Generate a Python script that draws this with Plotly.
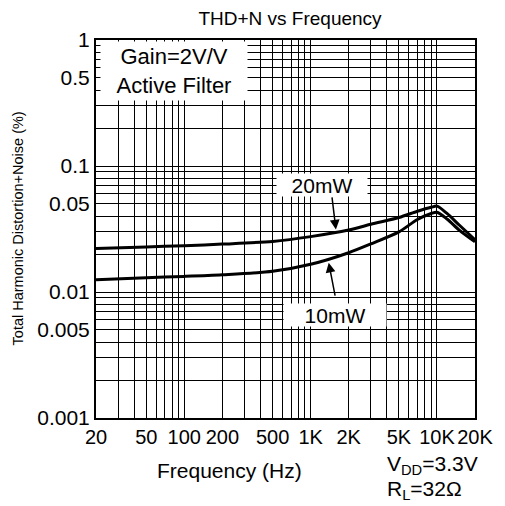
import math
import plotly.graph_objects as go

freq_20mw = [20, 50, 100, 200, 500, 1000, 2000, 3000, 5000, 7000, 9000, 10000, 12000, 15000, 20000]
thd_20mw = [0.0221, 0.0228, 0.0233, 0.0240, 0.0252, 0.0275, 0.031, 0.0345, 0.039, 0.0437, 0.047, 0.048, 0.042, 0.034, 0.026]
freq_10mw = [20, 50, 100, 200, 500, 1000, 2000, 3000, 5000, 7000, 9000, 10000, 12000, 15000, 20000]
thd_10mw = [0.0125, 0.0130, 0.0133, 0.0137, 0.0146, 0.0166, 0.0205, 0.0241, 0.030, 0.0376, 0.042, 0.043, 0.038, 0.031, 0.025]

x_labels = {20: "20", 50: "50", 100: "100", 200: "200", 500: "500", 1000: "1K",
            2000: "2K", 5000: "5K", 10000: "10K", 20000: "20K"}
y_labels = {1: "1", 0.5: "0.5", 0.1: "0.1", 0.05: "0.05", 0.01: "0.01",
            0.005: "0.005", 0.001: "0.001"}

x_grid = [m * 10 ** e for e in range(1, 5) for m in range(1, 10) if 20 <= m * 10 ** e <= 20000]
y_grid = [round(m * 10.0 ** e, 6) for e in range(-3, 1) for m in range(1, 10) if m * 10.0 ** e <= 1.0000001]

FONT = "Liberation Sans, Arial, sans-serif"

# page body has an 8px margin: figure is sized to fit the 505x506 window
W, H = 497, 498
L, T = 88, 32
PW, PH = 381, 378


def px(xp):
    return (xp - 8 - L) / PW


def py(yp):
    return 1 - (yp - 8 - T) / PH


fig = go.Figure()
fig.add_trace(go.Scatter(x=freq_20mw, y=thd_20mw, mode="lines",
                         line=dict(color="black", width=3, shape="spline", smoothing=0.8),
                         showlegend=False, name="20mW"))
fig.add_trace(go.Scatter(x=freq_10mw, y=thd_10mw, mode="lines",
                         line=dict(color="black", width=3, shape="spline", smoothing=0.8),
                         showlegend=False, name="10mW"))

fig.update_xaxes(type="log", range=[math.log10(20), math.log10(20000)],
                 tickmode="array", tickvals=x_grid,
                 ticktext=[x_labels.get(v, "") for v in x_grid],
                 showgrid=True, gridcolor="black", gridwidth=1,
                 showline=True, linecolor="black", linewidth=2, mirror=True,
                 ticks="", ticklabelstandoff=0, tickangle=0,
                 tickfont=dict(size=20, color="black", family=FONT),
                 zeroline=False)
fig.update_yaxes(type="log", range=[-3, 0],
                 tickmode="array", tickvals=y_grid,
                 ticktext=[y_labels.get(v, "") for v in y_grid],
                 showgrid=True, gridcolor="black", gridwidth=1,
                 showline=True, linecolor="black", linewidth=2, mirror=True,
                 ticks="", tickfont=dict(size=21, color="black", family=FONT),
                 zeroline=False)

tf = dict(size=21, color="black", family=FONT)


def label(xp, yp, text, font=tf, **kw):
    d = dict(x=px(xp), y=py(yp), xref="paper", yref="paper", text=text,
             showarrow=False, xanchor="center", yanchor="middle", font=font)
    d.update(kw)
    return d


anns = []
# curve labels
anns.append(label(323, 185, "20mW", bgcolor="white", borderpad=0, width=90, height=22))
anns.append(label(336, 315, "10mW", bgcolor="white", borderpad=0, width=102, height=22))
# arrows
anns.append(dict(x=math.log10(1585), y=math.log10(0.0313), ax=math.log10(1472), ay=math.log10(0.058),
                 xref="x", yref="y", axref="x", ayref="y", text="", showarrow=True,
                 arrowhead=2, arrowsize=1.3, arrowwidth=1.5, arrowcolor="black"))
anns.append(dict(x=math.log10(1390), y=math.log10(0.0171), ax=math.log10(1570), ay=math.log10(0.0091),
                 xref="x", yref="y", axref="x", ayref="y", text="", showarrow=True,
                 arrowhead=2, arrowsize=1.3, arrowwidth=1.5, arrowcolor="black"))
# condition box
anns.append(label(174, 71, "Gain=2V/V<br>Active Filter", bgcolor="white", borderpad=0,
                  width=146, height=58, font=dict(size=22, color="black", family=FONT)))
# axis titles
anns.append(label(230, 470, "Frequency (Hz)"))
anns.append(label(18, 228, "Total Harmonic Distortion+Noise (%)", textangle=-90,
                  font=dict(size=14.5, color="black", family=FONT)))
anns.append(label(387, 465, "V<sub>DD</sub>=3.3V", xanchor="left"))
anns.append(label(387, 490, "R<sub>L</sub>=32Ω", xanchor="left"))

fig.update_layout(
    width=W, height=H,
    margin=dict(l=L, r=W - L - PW, t=T, b=H - T - PH),
    paper_bgcolor="white", plot_bgcolor="white",
    title=dict(text="THD+N vs Frequency", x=(290 - 8) / W, xanchor="center",
               y=1 - (18 - 8) / H, yanchor="middle", yref="container",
               font=dict(size=19, color="black", family=FONT)),
    annotations=anns,
)

fig.write_html("out.html")
